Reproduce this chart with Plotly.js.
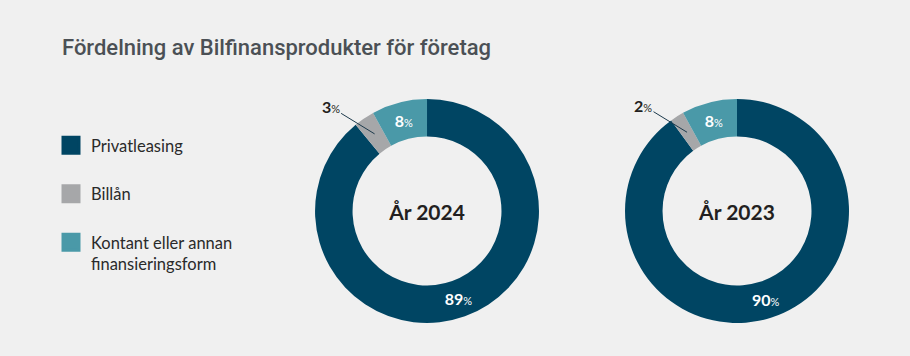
<!DOCTYPE html>
<html><head><meta charset="utf-8">
<script src="https://cdn.plot.ly/plotly-3.0.1.min.js"></script>
<style>html,body{margin:0;padding:0;background:#f0f0f0;}</style>
</head><body>
<div id="chart" style="width:910px;height:356px;"></div>
<script>
const categories = ["Privatleasing", "Billån", "Kontant eller annan<br>finansieringsform"];
const colors = ["#004563", "#a6a7a9", "#4a99a8"];
const years = ["År 2024", "År 2023"];
const values2024 = [89, 3, 8];
const values2023 = [90, 2, 8];
const chartTitle = "Fördelning av Bilfinansprodukter för företag";

const W = 910, H = 356;
const pieDomains = [
  {x: [0.3462, 0.5923], y: [0.0927, 0.7219]},
  {x: [0.6868, 0.9330], y: [0.0927, 0.7219]}
];
const hole = 0.665;
const allValues = [values2024, values2023];

const traces = [];
const annotations = [];
allValues.forEach((vals, i) => {
  const dom = pieDomains[i];
  traces.push({
    type: 'pie', values: vals, labels: categories, sort: false,
    direction: 'clockwise', rotation: 0, hole: hole,
    marker: {colors: colors, line: {width: 0}},
    domain: dom, showlegend: false, hoverinfo: 'label+value',
    texttemplate: vals.map((v, k) => k === 1 ? '' : "<b>%{value}</b><span style='font-size:11px'>%</span>"),
    textposition: 'inside', insidetextorientation: 'horizontal',
    textfont: {family: 'Lato', size: 16, color: '#ffffff'},
    title: {text: "<b>" + years[i] + "</b>", position: 'middle center', font: {family: 'Lato', size: 21, color: '#231f20'}}
  });
  // small slice label with leader line, computed from the data
  const total = vals.reduce((a, b) => a + b, 0);
  const before = vals[0];
  const midFrac = (before + vals[1] / 2) / total;
  const ang = midFrac * 2 * Math.PI;
  const cx = (dom.x[0] + dom.x[1]) / 2 * W;
  const cy = (1 - (dom.y[0] + dom.y[1]) / 2) * H;
  const r = (dom.x[1] - dom.x[0]) * W / 2;
  const rm = r * (1 + hole) / 2;
  const px = cx + rm * Math.sin(ang);
  const py = cy - rm * Math.cos(ang);
  annotations.push({
    xref: 'paper', yref: 'paper', x: px / W, y: 1 - py / H,
    text: "<b>" + vals[1] + "</b><span style='font-size:11px'>%</span>",
    showarrow: true, arrowhead: 0, arrowwidth: 1, arrowcolor: '#1d3a4c',
    ax: -44, ay: -27, standoff: 0,
    font: {family: 'Lato', size: 16, color: '#231f20'}
  });
});

categories.forEach((c, k) => {
  traces.push({
    type: 'scatter', mode: 'markers', x: [null], y: [null], name: c,
    legendgroup: 'g' + k, showlegend: true,
    marker: {symbol: 'square', size: 16, color: colors[k], line: {width: 3, color: colors[k]}},
    hoverinfo: 'skip'
  });
});

const layout = {
  width: W, height: H,
  paper_bgcolor: '#f0f0f0', plot_bgcolor: '#f0f0f0',
  margin: {l: 0, r: 0, t: 0, b: 0},
  title: {text: chartTitle, x: 62 / W, xanchor: 'left', xref: 'paper', y: 1 - 47 / H, yanchor: 'middle', yref: 'container',
          font: {family: 'Roboto', size: 22, color: '#4b5055', weight: 500}},
  xaxis: {visible: false}, yaxis: {visible: false},
  showlegend: true,
  legend: {x: 51 / W, xanchor: 'left', y: 1 - 128 / H, yanchor: 'top', bgcolor: 'rgba(0,0,0,0)',
           font: {family: 'Lato', size: 16.5, color: '#2a2a2a'}, tracegroupgap: 24, valign: 'top',
           itemclick: false, itemdoubleclick: false},
  annotations: annotations
};
Plotly.newPlot('chart', traces, layout, {displayModeBar: false, staticPlot: true});
</script>
</body></html>
